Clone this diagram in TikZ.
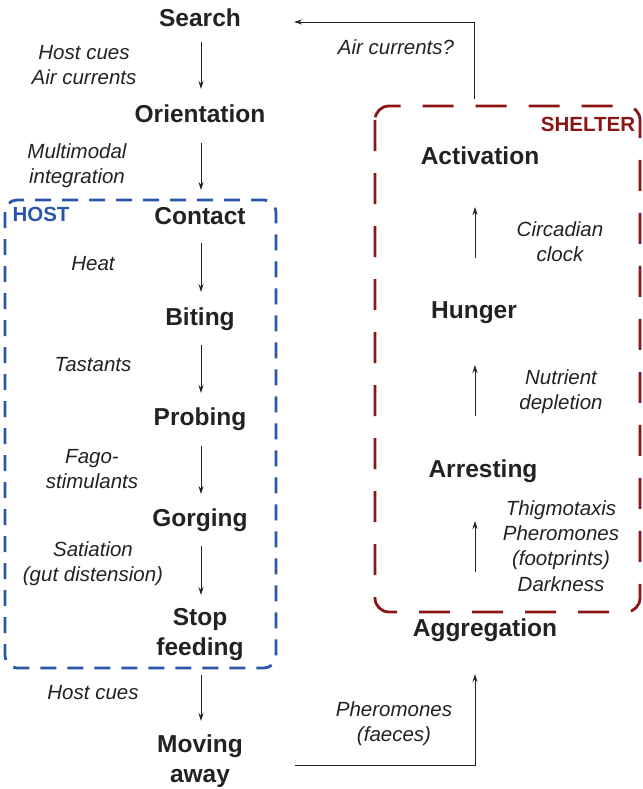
\documentclass[tikz,border=0pt]{standalone}
\usepackage{fontspec}
\setmainfont{Liberation Sans}
\usetikzlibrary{arrows.meta}
\definecolor{txt}{HTML}{222222}
\definecolor{hostblue}{HTML}{2B55A8}
\definecolor{shelred}{HTML}{8B1414}
\begin{document}
\begin{tikzpicture}[x=1pt,y=-1pt,
  stage/.style={font=\fontsize{24.5}{30}\selectfont\bfseries, text=txt, align=center, inner sep=0pt},
  cue/.style={font=\fontsize{20.5}{25.3}\selectfont\itshape, text=txt, align=center, inner sep=0pt},
  flow/.style={line width=0.9pt, draw=txt, -{Stealth[length=8pt,width=5pt]}},
  boxlabel/.style={font=\fontsize{20.5}{22}\selectfont\bfseries, align=center, inner sep=0pt}]
\useasboundingbox (0,0) rectangle (642,789);
% boxes
\draw[hostblue, line width=2.8pt, dash pattern=on 16pt off 11pt, rounded corners=12pt] (5,200) rectangle (276,668);
\draw[shelred, line width=2.8pt, dash pattern=on 31pt off 22pt, rounded corners=14pt] (375,106) rectangle (640,612);
\node[boxlabel, text=hostblue] (hostlbl) at (41,214) {HOST};
\node[boxlabel, text=shelred] (shellbl) at (588,124) {SHELTER};
% stages
\node[stage] (search) at (200,18) {Search};
\node[stage] (orient) at (200,114) {Orientation};
\node[stage] (contact) at (200,216) {Contact};
\node[stage] (biting) at (200,319) {Biting};
\node[stage] (probing) at (200,419) {Probing};
\node[stage] (gorging) at (200,520) {Gorging};
\node[stage] (stop) at (200,635) {Stop\\feeding};
\node[stage] (moving) at (200,761) {Moving\\away};
\node[stage] (activ) at (480,156) {Activation};
\node[stage] (hunger) at (474,313) {Hunger};
\node[stage] (arrest) at (483,471) {Arresting};
\node[stage] (aggr) at (485,630) {Aggregation};
% coordinates for arrows
\coordinate (a1s) at (201,42); \coordinate (a1e) at (201,89);
\coordinate (a2s) at (201,143); \coordinate (a2e) at (201,190);
\coordinate (a3s) at (201,243); \coordinate (a3e) at (201,292);
\coordinate (a4s) at (201,345); \coordinate (a4e) at (201,393);
\coordinate (a5s) at (201,446); \coordinate (a5e) at (201,494);
\coordinate (a6s) at (201,546); \coordinate (a6e) at (201,595);
\coordinate (a7s) at (201,675); \coordinate (a7e) at (201,721);
\draw[flow] (a1s) -- (a1e);
\draw[flow] (a2s) -- (a2e);
\draw[flow] (a3s) -- (a3e);
\draw[flow] (a4s) -- (a4e);
\draw[flow] (a5s) -- (a5e);
\draw[flow] (a6s) -- (a6e);
\draw[flow] (a7s) -- (a7e);
\coordinate (r1s) at (475,258); \coordinate (r1e) at (475,207);
\coordinate (r2s) at (475,416); \coordinate (r2e) at (475,365);
\coordinate (r3s) at (475,572); \coordinate (r3e) at (475,521);
\draw[flow] (r1s) -- (r1e);
\draw[flow] (r2s) -- (r2e);
\draw[flow] (r3s) -- (r3e);
% loops
\coordinate (b1) at (295,765); \coordinate (b2) at (475,765); \coordinate (b3) at (475,674);
\draw[flow] (b1) -- (b2) -- (b3);
\coordinate (t1) at (474,99); \coordinate (t2) at (474,22); \coordinate (t3) at (294,22);
\draw[flow] (t1) -- (t2) -- (t3);
% cues
\node[cue] (c1) at (84,65) {Host cues\\Air currents};
\node[cue] (c2) at (77,166) {Multimodal\\integration};
\node[cue] (c3) at (93,264) {Heat};
\node[cue] (c4) at (93,365) {Tastants};
\node[cue] (c5) at (92,469) {Fago-\\stimulants};
\node[cue] (c6) at (93,564) {Satiation\\(gut distension)};
\node[cue] (c7) at (93,693) {Host cues};
\node[cue] (c8) at (394,724) {Pheromones\\(faeces)};
\node[cue] (c9) at (396,47) {Air currents?};
\node[cue] (c10) at (560,242) {Circadian\\clock};
\node[cue] (c11) at (561,392) {Nutrient\\depletion};
\node[cue] (c12) at (561,546) {Thigmotaxis\\Pheromones\\(footprints)\\Darkness};
\end{tikzpicture}
\end{document}
